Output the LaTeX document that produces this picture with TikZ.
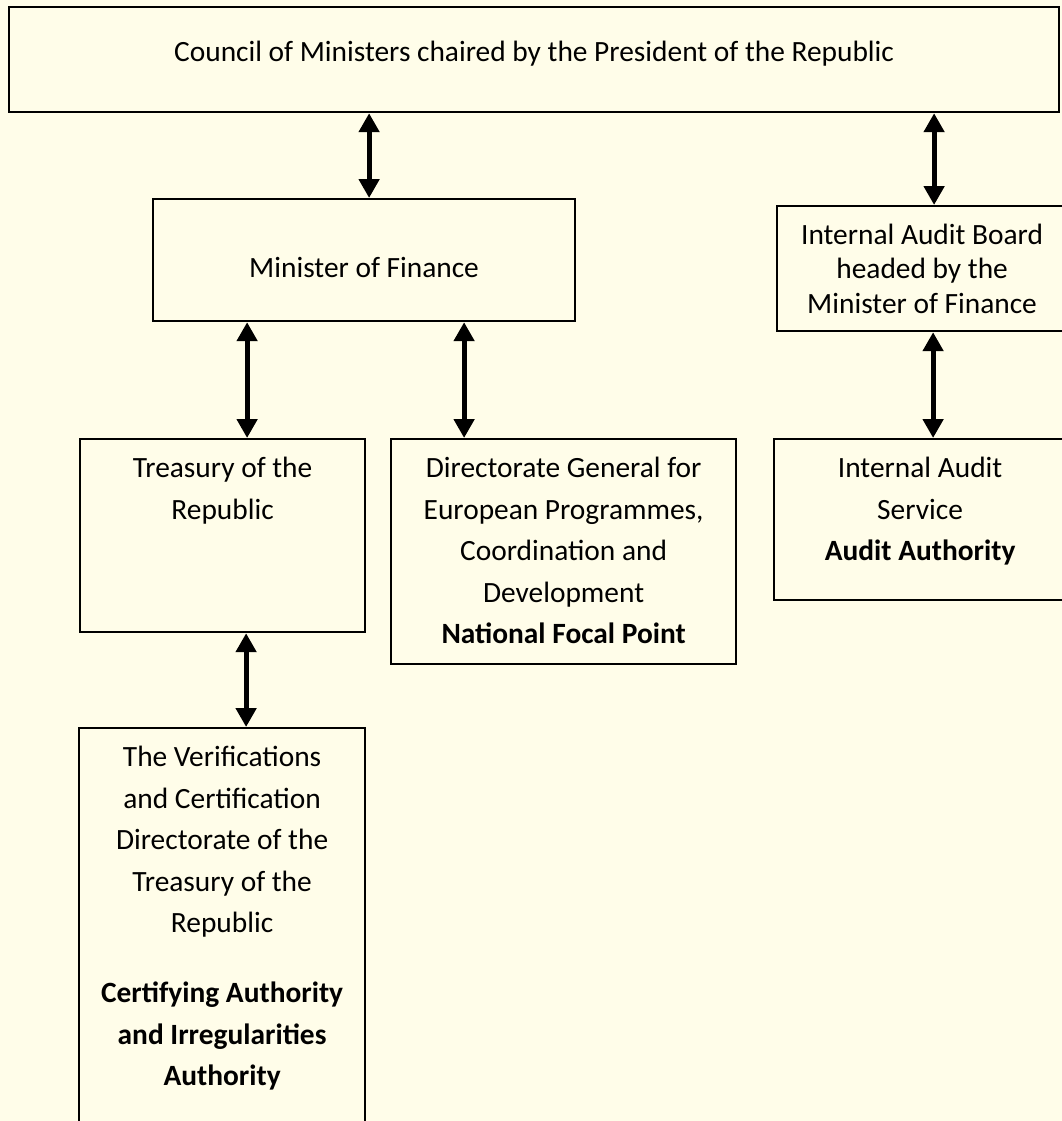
\documentclass[tikz,border=0pt]{standalone}
\usepackage{fontspec}
\setmainfont{Carlito}
\usetikzlibrary{arrows.meta,positioning}
\definecolor{paper}{RGB}{255,253,233}

\begin{document}
\begin{tikzpicture}[x=0.5pt,y=-0.5pt,
    font=\fontsize{14.7}{20.75}\selectfont,
    box/.style={draw,line width=1.1pt,anchor=north west,inner sep=0pt,align=center},
    boxtext/.style={anchor=north,inner sep=0pt,align=center,yshift=-9.5pt},
    link/.style={{Triangle[length=9.5pt,width=10pt]}-{Triangle[length=9.5pt,width=10pt]},line width=2.5pt}]
    \fill[paper] (0,0) rectangle (1062,1121);
    \useasboundingbox (0,0) rectangle (1062,1121);

    \node[box,minimum width=525pt,minimum height=52.5pt,text depth=8pt] (council) at (8,6) {Council of Ministers chaired by the President of the Republic};
    \node[box,minimum width=211pt,minimum height=61pt,text height=17pt] (mof) at (152,198) {Minister of Finance};
    \node[box,minimum width=145pt,minimum height=62.5pt,font=\fontsize{14.7}{17.25}\selectfont] (iab) at (776,205) {Internal Audit Board\\headed by the\\Minister of Finance};

    \node[box,minimum width=142.5pt,minimum height=96.5pt] (treas) at (79,438) {};
    \node[boxtext] (treastext) at (treas.north) {Treasury of the\\Republic};

    \node[box,minimum width=172.5pt,minimum height=112.5pt] (dir) at (390,438) {};
    \node[boxtext] (dirtext) at (dir.north) {Directorate General for\\European Programmes,\\Coordination and\\Development\\\textbf{National Focal Point}};

    \node[box,minimum width=146pt,minimum height=80.5pt] (ias) at (773,438) {};
    \node[boxtext] (iastext) at (ias.north) {Internal Audit\\Service\\\textbf{Audit Authority}};

    \node[box,minimum width=143pt,minimum height=210pt] (verif) at (78,727) {};
    \node[boxtext] (veriftext) at (verif.north) {The Verifications\\and Certification\\Directorate of the\\Treasury of the\\Republic\\[14.25pt]\textbf{Certifying Authority}\\\textbf{and Irregularities}\\\textbf{Authority}};

    \foreach \lo/\hi/\dx in {mof/council/2.5pt, iab/council/6pt, treas/mof/12.25pt, dir/mof/-49.75pt, ias/iab/6.5pt, verif/treas/12pt}
    {
        \coordinate (\lo-top) at ([xshift=\dx]\lo.north);
        \draw[link] (\lo-top) -- (\lo-top |- \hi.south);
    }
\end{tikzpicture}
\end{document}
